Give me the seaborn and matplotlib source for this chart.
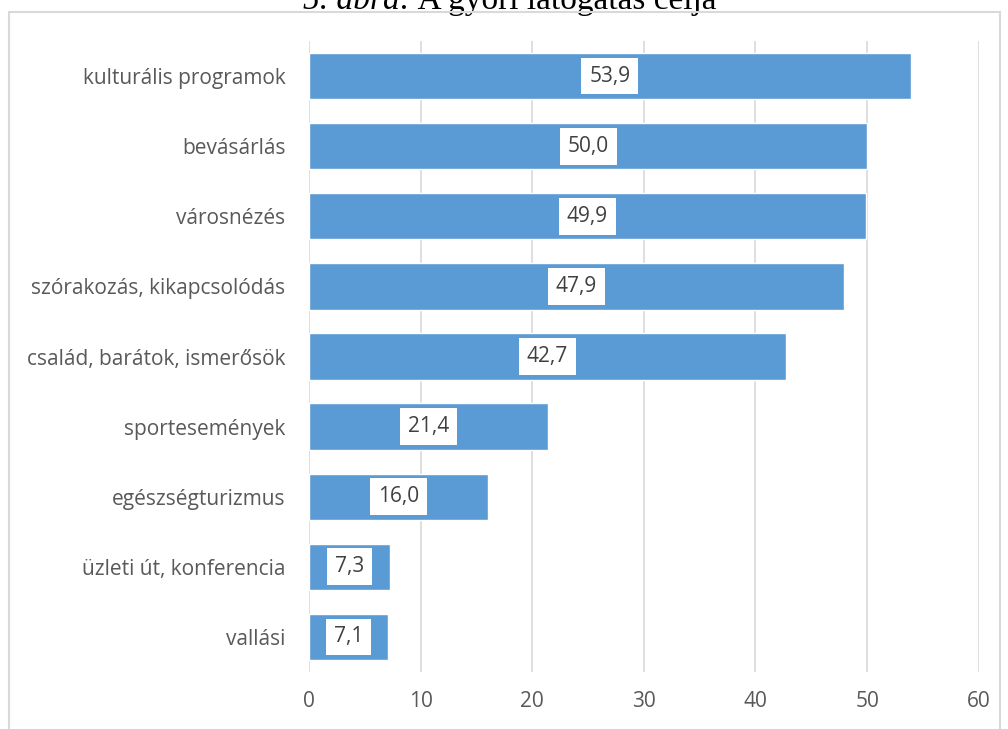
import matplotlib
matplotlib.use("Agg")
import pandas as pd
import seaborn as sns
from matplotlib import pyplot as plt
from matplotlib.patches import Rectangle

categories = [
    "kulturális programok",
    "bevásárlás",
    "városnézés",
    "szórakozás, kikapcsolódás",
    "család, barátok, ismerősök",
    "sportesemények",
    "egészségturizmus",
    "üzleti út, konferencia",
    "vallási",
]
values = [53.9, 50.0, 49.9, 47.9, 42.7, 21.4, 16.0, 7.3, 7.1]
x_ticks = [0, 10, 20, 30, 40, 50, 60]
title_num = "5. ábra:"
title_text = " A győri látogatás célja"

data = pd.DataFrame({"cel": categories, "arany": values})

sns.set_style("white")
plt.rcParams["font.family"] = ["Open Sans", "DejaVu Sans"]

fig = plt.figure(figsize=(10.08, 7.29), dpi=100)
ax = fig.add_axes([309 / 1008, 1 - 672 / 729, 669.7 / 1008, 631 / 729])

sns.barplot(data=data, y="cel", x="arany", orient="h", color="#5B9BD5",
            saturation=1, width=0.66, ax=ax)

ax.set_xlim(0, 60)
ax.set_xticks(x_ticks)
ax.set_xticklabels([str(t) for t in x_ticks])
ax.grid(axis="x", color="#d9d9d9", linewidth=1.2)
ax.set_axisbelow(True)
for s in ax.spines.values():
    s.set_visible(False)
ax.set_xlabel("")
ax.set_ylabel("")
ax.tick_params(axis="x", length=0, pad=14, labelsize=15, labelcolor="#595959")
ax.tick_params(axis="y", length=0, pad=17, labelsize=15, labelcolor="#595959")

# value labels in white boxes at the middle of each bar
for i, v in enumerate(values):
    ax.text(v / 2, i, f"{v:.1f}".replace(".", ","), ha="center", va="center",
            fontsize=15, color="#404040",
            bbox=dict(facecolor="white", edgecolor="none", boxstyle="square,pad=0.38"))

# chart border box
fig.patches.append(Rectangle((9 / 1008, -0.05), 991 / 1008, 1.05 - 12 / 729,
                             transform=fig.transFigure, fill=False,
                             edgecolor="#d9d9d9", linewidth=1.5))

# figure caption, cut at the top edge as in the source
serif = ["Liberation Serif", "DejaVu Serif"]
t1 = fig.text(303 / 1008, 1 - 9 / 729, title_num, ha="left", va="baseline",
              fontsize=24, family=serif, style="italic", color="black")
ax.annotate(title_text, xy=(1, 0), xycoords=t1, ha="left", va="bottom",
            fontsize=24, family=serif, color="black", annotation_clip=False)

plt.savefig("out.png", dpi=100)
